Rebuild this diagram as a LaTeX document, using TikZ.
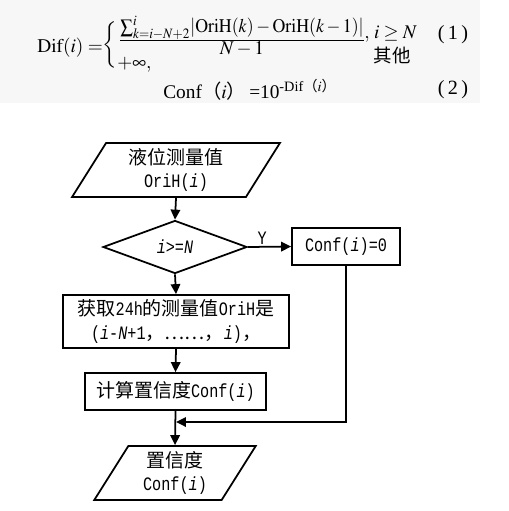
\documentclass[tikz,border=0pt]{standalone}
\usepackage{amsmath,amssymb}
\usepackage{mathptmx}
\usepackage{graphicx}
\usepackage{fontspec}
\setmainfont{Liberation Serif}
\newfontfamily\cjk{Noto Sans CJK SC}
\newfontfamily\monofc[FakeStretch=0.8]{Liberation Mono}
\usetikzlibrary{arrows.meta,shapes.geometric}

\newcommand{\fcm}[1]{{\monofc #1}}
\newcommand{\fci}[1]{{\monofc\itshape #1}}
\newcommand{\wpar}[1]{{\cjk（}#1{\cjk）}}

\begin{document}
\begin{tikzpicture}[
  x=0.02cm, y=-0.02cm,
  formula/.style={inner sep=0pt, font=\fontsize{11}{13}\selectfont},
  eqnum/.style={inner sep=0pt, font=\fontsize{11.5}{14}\selectfont},
  fcbox/.style={draw, line width=1pt, inner sep=2pt, align=center, font=\cjk\fontsize{10.8}{13.5}\selectfont},
  iobox/.style={fcbox, trapezium, trapezium stretches=true},
  testbox/.style={fcbox, diamond, aspect=2.7, inner sep=0pt, minimum width=2.88cm, minimum height=1.06cm},
  flow/.style={-{Triangle[length=2mm, width=1.9mm]}, line width=1pt},
  ylabel/.style={inner sep=1pt, font=\monofc\fontsize{10.8}{13}\selectfont}
]
  \useasboundingbox (0,0) rectangle (509,511);
  \fill[black!3] (0,0) rectangle (480,103);

  % formulas
  \node[formula, anchor=base west] (difl) at (37,52) {$\mathrm{Dif}(i)=$};
  \node[formula] (brace) at (110,45) {$\biggl\{$};
  \node[formula] (frac) at (242,36)
    {$\frac{\textstyle\scalebox{0.92}[1]{$\sum_{k=i-N+2}^{i}\lvert\mathrm{OriH}(k)-\mathrm{OriH}(k-1)\rvert$}}{\textstyle N-1}$};
  \node[formula, anchor=base west] (cond) at (364,38) {$,\,i\ge N$};
  \node[formula, font=\cjk\fontsize{10.5}{12}\selectfont] (other) at (392,55) {其他};
  \node[formula, anchor=base west] (inf) at (117,68) {$+\infty,$};
  \node[eqnum] (num1) at (453,35) {(\,1\,)};
  \node[formula, anchor=west] (conf) at (163,90)
    {Conf\wpar{$i$}\,=10$^{\text{-Dif\wpar{$i$}}}$};
  \node[eqnum] (num2) at (453,90) {(\,2\,)};

  % flow chart
  \node[iobox, trapezium left angle=64, trapezium right angle=116, minimum width=4.16cm, minimum height=1.08cm] (inp) at (176,170)
    {液位测量值\\\fcm{OriH(\fci{i})}};
  \node[testbox] (test) at (175,247) {\fci{i}\fcm{>=}\fci{N}};
  \node[fcbox, minimum width=2.16cm, minimum height=0.74cm] (zero) at (346,246.5) {\fcm{Conf(\fci{i})=0}};
  \node[fcbox, minimum width=4.52cm, minimum height=1.06cm] (fetch) at (176,321.5)
    {获取\fcm{24h}的测量值\fcm{OriH}是\\\fcm{(\fci{i}-\fci{N}+1}，……，\fcm{\fci{i})}，};
  \node[fcbox, minimum width=3.62cm, minimum height=0.74cm] (calc) at (175.5,391.5) {计算置信度\fcm{Conf(\fci{i})}};
  \node[iobox, trapezium left angle=63, trapezium right angle=117, minimum width=3.24cm, minimum height=1.08cm] (outp) at (175,473)
    {置信度\\\fcm{Conf(\fci{i})}};
  \coordinate (merge) at (176,422);

  \draw[flow] (inp.south) -- (test.north);
  \draw[flow] (test.east) -- (zero.west) node[ylabel, above, pos=0.33] {Y};
  \draw[flow] (test.south) -- (fetch.north);
  \draw[flow] (fetch.south) -- (calc.north);
  \draw[flow] (calc.south) -- (outp.north);
  \draw[flow] (zero.south) |- (merge);
\end{tikzpicture}
\end{document}
